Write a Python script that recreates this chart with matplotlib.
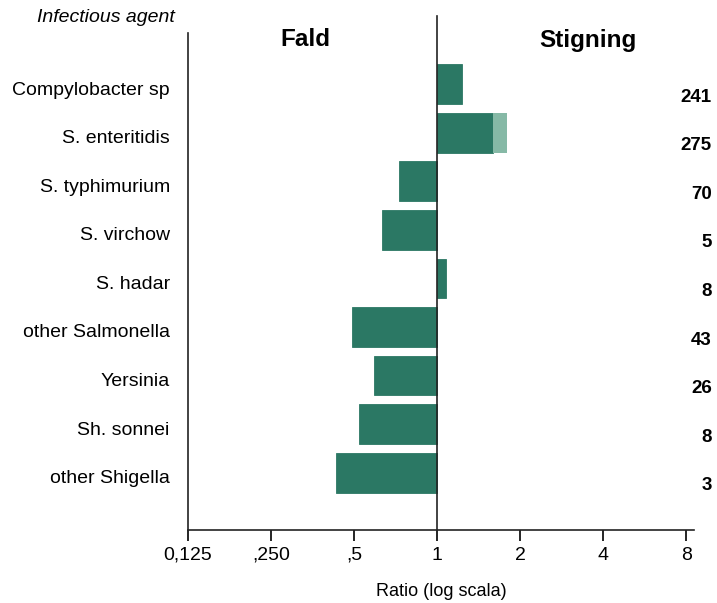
import numpy as np
import matplotlib.pyplot as plt

plt.rcParams['font.family'] = ['Liberation Sans', 'DejaVu Sans']

agents = ["Compylobacter sp", "S. enteritidis", "S. typhimurium", "S. virchow",
          "S. hadar", "other Salmonella", "Yersinia", "Sh. sonnei", "other Shigella"]
ratios = [1.23, 1.59, 0.73, 0.63, 1.08, 0.49, 0.59, 0.52, 0.43]
# extra lighter part on top of the enteritidis bar
extra_end = [None, 1.79, None, None, None, None, None, None, None]
counts = ["241", "275", "70", "5", "8", "43", "26", "8", "3"]
xticks = [0.125, 0.25, 0.5, 1, 2, 4, 8]
xticklabels = ["0,125", ",250", ",5", "1", "2", "4", "8"]

dark = "#2b7864"
light = "#86b9a6"

fig = plt.figure(figsize=(7.17, 6.03), dpi=100)
ax = fig.add_axes([0.262, 0.121, 0.706, 0.824])
ax.set_xscale('log', base=2)

y = np.arange(len(agents))
left = [min(r, 1) for r in ratios]
width = [abs(r - 1) for r in ratios]
ax.barh(y, width, left=left, height=0.82, color=dark, edgecolor=dark, linewidth=0.6)
for i, e in enumerate(extra_end):
    if e is not None:
        ax.barh(i, e - ratios[i], left=ratios[i], height=0.82, color=light, linewidth=0)

ax.set_xlim(0.125, 8.54)
ax.set_ylim(9.18, -1.05)
ax.axvline(1, ymin=0, ymax=1.035, color='#222222', lw=1.2, clip_on=False)

for s in ['top', 'right']:
    ax.spines[s].set_visible(False)
ax.spines['left'].set_color('#222222')
ax.spines['bottom'].set_color('#222222')
ax.spines['left'].set_linewidth(1.2)
ax.spines['bottom'].set_linewidth(1.2)

ax.set_xticks(xticks)
ax.set_xticklabels(xticklabels, fontsize=14)
ax.minorticks_off()
ax.tick_params(axis='x', direction='out', length=8, width=1.2, pad=4)
ax.set_yticks(y + 0.08)
ax.set_yticklabels(agents, fontsize=14)
ax.tick_params(axis='y', length=0, pad=13)
ax.set_xlabel("Ratio (log scala)", fontsize=13, labelpad=14)

for i, c in enumerate(counts):
    ax.text(1.035, i + 0.27, c, transform=ax.get_yaxis_transform(), ha='right', va='center',
            fontsize=13.5, fontweight='bold')

fig.text(175 / 717, 1 - 18 / 603, "Infectious agent", ha='right', va='center',
         fontsize=14, style='italic')
fig.text(305 / 717, 1 - 40 / 603, "Fald", ha='center', va='center', fontsize=17.5, fontweight='bold')
fig.text(588 / 717, 1 - 40 / 603, "Stigning", ha='center', va='center', fontsize=17.5, fontweight='bold')

fig.savefig("out.png", dpi=100)
